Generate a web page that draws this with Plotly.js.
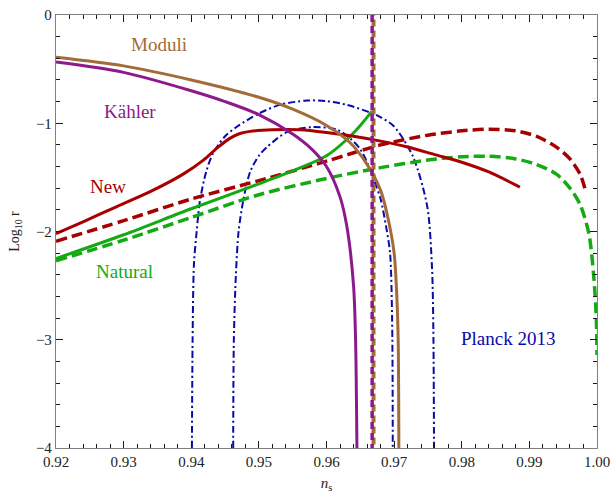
<!DOCTYPE html>
<html><head><meta charset="utf-8">
<script src="https://cdn.plot.ly/plotly-3.0.1.min.js"></script>
<style>html,body{margin:0;padding:0;background:#fff}#c{width:611px;height:493px}</style>
</head><body><div id="c"></div>
<script>
// Moduli (solid brown)
const moduliX = [0.92, 0.93, 0.94, 0.95, 0.955, 0.96, 0.9635, 0.966, 0.968, 0.969, 0.970, 0.9704, 0.9706, 0.9707];
const moduliY = [-0.39, -0.47, -0.60, -0.76, -0.87, -1.02, -1.18, -1.38, -1.62, -1.85, -2.2, -2.6, -3.0, -4.0];
// Kähler (solid purple)
const kahlerX = [0.92, 0.93, 0.94, 0.945, 0.95, 0.955, 0.958, 0.960, 0.962, 0.963, 0.964, 0.9643, 0.9645];
const kahlerY = [-0.435, -0.53, -0.70, -0.80, -0.92, -1.10, -1.25, -1.40, -1.68, -1.95, -2.5, -3.0, -4.0];
// New (solid dark red)
const newX = [0.92, 0.924, 0.929, 0.934, 0.9388, 0.9418, 0.9438, 0.9457, 0.9472, 0.9487, 0.952, 0.956, 0.960, 0.964, 0.968, 0.972, 0.976, 0.980, 0.984, 0.9886];
const newY = [-2.02, -1.91, -1.77, -1.63, -1.47, -1.34, -1.23, -1.14, -1.095, -1.075, -1.06, -1.06, -1.085, -1.12, -1.165, -1.22, -1.29, -1.36, -1.45, -1.59];
// New (dashed dark red)
const newDX = [0.92, 0.93, 0.94, 0.95, 0.96, 0.968, 0.975, 0.980, 0.984, 0.988, 0.991, 0.994, 0.996, 0.9975, 0.9982];
const newDY = [-2.09, -1.90, -1.70, -1.53, -1.35, -1.20, -1.11, -1.07, -1.055, -1.07, -1.12, -1.22, -1.33, -1.47, -1.60];
// Natural (solid green)
const natX = [0.92, 0.93, 0.94, 0.95, 0.955, 0.96, 0.963, 0.965, 0.9667];
const natY = [-2.25, -2.03, -1.79, -1.56, -1.44, -1.30, -1.15, -1.02, -0.89];
// Natural (dashed green)
const natDX = [0.92, 0.93, 0.94, 0.95, 0.96, 0.968, 0.975, 0.980, 0.984, 0.988, 0.991, 0.994, 0.996, 0.9975, 0.9988, 0.9995, 0.9999, 1.0];
const natDY = [-2.27, -2.08, -1.87, -1.66, -1.51, -1.41, -1.34, -1.31, -1.305, -1.33, -1.38, -1.47, -1.60, -1.75, -2.02, -2.4, -2.8, -3.14];
// Planck 2013 contours
const planckOutX = [0.9401, 0.9402, 0.9404, 0.9408, 0.9413, 0.9422, 0.9432, 0.945, 0.9468, 0.950, 0.9531, 0.9571, 0.960, 0.963, 0.9664, 0.9679, 0.970, 0.9728, 0.9749, 0.9756, 0.9758, 0.9759];
const planckOutY = [-4.0, -3.0, -2.3, -2.0, -1.71, -1.45, -1.28, -1.12, -1.03, -0.91, -0.83, -0.79, -0.795, -0.83, -0.90, -0.94, -1.03, -1.31, -1.77, -2.33, -2.91, -4.0];
const planckInX = [0.9462, 0.9463, 0.9466, 0.947, 0.9477, 0.9487, 0.950, 0.9512, 0.9542, 0.958, 0.9616, 0.9635, 0.965, 0.966, 0.967, 0.968, 0.9688, 0.9694, 0.9697, 0.9698];
const planckInY = [-4.0, -3.0, -2.4, -2.0, -1.71, -1.45, -1.30, -1.22, -1.08, -1.035, -1.06, -1.14, -1.24, -1.36, -1.52, -1.70, -1.95, -2.2, -2.8, -4.0];
// vertical dashed lines
const vertX = [0.96695, 0.96695];
const vertY = [0.06, -4.0];
const vertPX = [0.96675, 0.96675];
const vertPY = [0.0, -4.0];
// labels
const labelText = ["Moduli", "Kähler", "New", "Natural", "Planck 2013"];
const labelX = [0.9353, 0.9309, 0.9277, 0.9302, 0.9868];
const labelY = [-0.277, -0.887, -1.58, -2.365, -2.99];
// ticks
const xTicks = [0.92, 0.93, 0.94, 0.95, 0.96, 0.97, 0.98, 0.99, 1.00];
const yTicks = [0, -1, -2, -3, -4];

const BROWN = "#A36B38", PURPLE = "#8C1A8C", RED = "#A80000", GREEN = "#13AA13", BLUE = "#0A0AAA";
const labelColors = [BROWN, PURPLE, RED, GREEN, BLUE];
const SERIF = "Liberation Serif, Times New Roman, serif";

function ln(x, y, color, width, dash) {
  return {x: x, y: y, mode: "lines", type: "scatter", hoverinfo: "skip",
          line: {color: color, width: width, dash: dash || "solid", shape: "spline", smoothing: 0.8}};
}
const traces = [
  ln(planckOutX, planckOutY, BLUE, 2, "7px,3px,2px,3px"),
  ln(planckInX, planckInY, BLUE, 2, "7px,3px,2px,3px"),
  ln(newDX, newDY, RED, 3.5, "11px,5px"),
  ln(natDX, natDY, GREEN, 3.5, "11px,5px"),
  ln(natX, natY, GREEN, 3),
  ln(newX, newY, RED, 3),
  ln(kahlerX, kahlerY, PURPLE, 3),
  ln(moduliX, moduliY, BROWN, 3),
  {x: vertX, y: vertY, mode: "lines", type: "scatter", hoverinfo: "skip", line: {color: BROWN, width: 4, dash: "7px,4px"}},
  {x: vertPX, y: vertPY, mode: "lines", type: "scatter", hoverinfo: "skip", line: {color: PURPLE, width: 3.5, dash: "7px,4px"}}
];

const annotations = labelText.map((t, i) => ({
  x: labelX[i], y: labelY[i], xref: "x", yref: "y", text: t, showarrow: false,
  font: {family: SERIF, size: 19, color: labelColors[i]}
}));

const layout = {
  width: 611, height: 493, showlegend: false,
  paper_bgcolor: "#fff", plot_bgcolor: "#fff",
  margin: {l: 56, r: 14, t: 15, b: 45},
  xaxis: {
    range: [0.92, 1.0], tickmode: "array", tickvals: xTicks, tickformat: ".2f",
    showgrid: false, zeroline: false, showline: true, linecolor: "#808080", linewidth: 1.3,
    mirror: "allticks", ticks: "inside", ticklen: 7, tickcolor: "#1a1a1a", tickwidth: 1.2,
    tickfont: {family: SERIF, size: 15, color: "#222"},
    minor: {dtick: 0.002, ticks: "inside", ticklen: 4, tickcolor: "#1a1a1a", tickwidth: 1},
    title: {text: "<i>n</i><sub>s</sub>", standoff: 12, font: {family: SERIF, size: 15, color: "#222"}}
  },
  yaxis: {
    range: [-4, 0], tickmode: "array", tickvals: yTicks,
    showgrid: false, zeroline: false, showline: true, linecolor: "#808080", linewidth: 1.3,
    mirror: "allticks", ticks: "inside", ticklen: 7, tickcolor: "#1a1a1a", tickwidth: 1.2,
    tickfont: {family: SERIF, size: 15, color: "#222"},
    minor: {dtick: 0.2, ticks: "inside", ticklen: 4, tickcolor: "#1a1a1a", tickwidth: 1},
    title: {text: "Log<sub>10</sub> r", standoff: 12, font: {family: SERIF, size: 14, color: "#222"}}
  },
  annotations: annotations
};
Plotly.newPlot("c", traces, layout, {displayModeBar: false});
</script></body></html>
